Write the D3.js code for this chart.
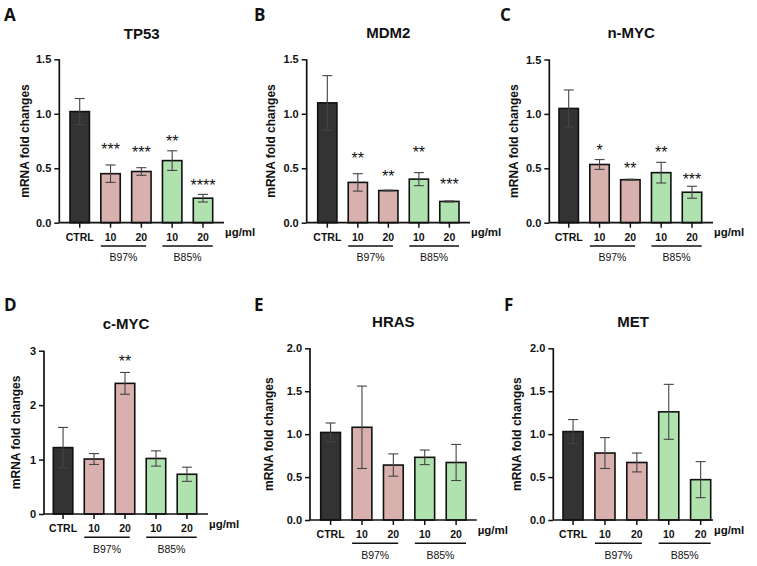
<!DOCTYPE html>
<html>
<head>
<meta charset="utf-8">
<script src="https://cdn.jsdelivr.net/npm/d3@7"></script>
<style>
  html, body { margin: 0; padding: 0; background: #fff; }
  svg { display: block; }
  text { font-family: "Liberation Sans", Arial, sans-serif; fill: #111; }
</style>
</head>
<body>
<svg id="chart" width="757" height="566"></svg>
<script>
// ---------- DATA ----------
const categories = ["CTRL", "B97-10", "B97-20", "B85-10", "B85-20"];
const tickLabels = ["CTRL", "10", "20", "10", "20"];
const groupLabels = ["B97%", "B85%"];
const unitLabel = "µg/ml";
const yTitle = "mRNA fold changes";

const tp53Mean = [1.02, 0.45, 0.47, 0.57, 0.225];
const tp53Sd   = [0.12, 0.08, 0.035, 0.09, 0.035];
const tp53Stars = ["", "***", "***", "**", "****"];
const tp53StarY = [null, 0.70, 0.68, 0.775, 0.37];

const mdm2Mean = [1.10, 0.37, 0.295, 0.40, 0.195];
const mdm2Sd   = [0.25, 0.08, 0.004, 0.06, 0.005];
const mdm2Stars = ["", "**", "**", "**", "***"];
const mdm2StarY = [null, 0.62, 0.46, 0.68, 0.38];

const nmycMean = [1.05, 0.535, 0.395, 0.46, 0.28];
const nmycSd   = [0.17, 0.045, 0.005, 0.095, 0.055];
const nmycStars = ["", "*", "**", "**", "***"];
const nmycStarY = [null, 0.70, 0.53, 0.68, 0.43];

const cmycMean = [1.22, 1.01, 2.40, 1.02, 0.73];
const cmycSd   = [0.37, 0.10, 0.20, 0.14, 0.13];
const cmycStars = ["", "", "**", "", ""];
const cmycStarY = [null, null, 2.86, null, null];

const hrasMean = [1.02, 1.08, 0.64, 0.73, 0.67];
const hrasSd   = [0.11, 0.48, 0.13, 0.085, 0.21];

const metMean = [1.03, 0.78, 0.67, 1.26, 0.47];
const metSd   = [0.14, 0.18, 0.11, 0.32, 0.21];

const ticks15 = [0, 0.5, 1.0, 1.5];
const ticks3  = [0, 1, 2, 3];
const ticks2  = [0, 0.5, 1.0, 1.5, 2.0];

const barColors = ["#333333", "#d8b0ae", "#d8b0ae", "#b0e2b0", "#b0e2b0"];

// ---------- LAYOUT ----------
const panels = [
  { letter: "A", title: "TP53",  mean: tp53Mean, sd: tp53Sd, stars: tp53Stars, starY: tp53StarY, ticks: ticks15, fmt: ".1f", yMax: 1.5,
    ax: 59.3, bx: [70, 212.7], axEnd: 224, yTop: 59.3, y0: 222.7, lx: 4, ly: 20.7, tb: 38.5, ytx: 25 },
  { letter: "B", title: "MDM2",  mean: mdm2Mean, sd: mdm2Sd, stars: mdm2Stars, starY: mdm2StarY, ticks: ticks15, fmt: ".1f", yMax: 1.5,
    ax: 306.7, bx: [317.7, 459], axEnd: 470, yTop: 59.3, y0: 222.7, lx: 254, ly: 20.7, tb: 38, ytx: 270.5 },
  { letter: "C", title: "n-MYC", mean: nmycMean, sd: nmycSd, stars: nmycStars, starY: nmycStarY, ticks: ticks15, fmt: ".1f", yMax: 1.5,
    ax: 549.3, bx: [559, 701.7], axEnd: 713, yTop: 59.5, y0: 222.7, lx: 500, ly: 20.7, tb: 38, ytx: 513.5 },
  { letter: "D", title: "c-MYC", mean: cmycMean, sd: cmycSd, stars: cmycStars, starY: cmycStarY, ticks: ticks3, fmt: "d", yMax: 3,
    ax: 44, bx: [53.3, 196.7], axEnd: 208, yTop: 350.7, y0: 514, lx: 4, ly: 310.7, tb: 329, ytx: 15.5 },
  { letter: "E", title: "HRAS",  mean: hrasMean, sd: hrasSd, stars: null, starY: null, ticks: ticks2, fmt: ".1f", yMax: 2,
    ax: 310, bx: [320.7, 466], axEnd: 476.7, yTop: 348.3, y0: 520, lx: 254, ly: 310.7, tb: 327, ytx: 268.5 },
  { letter: "F", title: "MET",   mean: metMean, sd: metSd, stars: null, starY: null, ticks: ticks2, fmt: ".1f", yMax: 2,
    ax: 553.3, bx: [563, 710.7], axEnd: 713, yTop: 348.3, y0: 520, lx: 504, ly: 310.7, tb: 327, ytx: 517 }
];

const svg = d3.select("#chart");

panels.forEach(p => {
  const g = svg.append("g");
  const x = d3.scaleBand().domain(categories).range(p.bx).paddingInner(0.37).paddingOuter(0);
  const y = d3.scaleLinear().domain([0, p.yMax]).range([p.y0, p.yTop]);
  const bw = x.bandwidth();

  // panel letter
  g.append("text").attr("x", p.lx).attr("y", p.ly)
    .style("font-family", "'Open Sans', 'Noto Sans', sans-serif")
    .style("font-weight", "bold").style("font-size", "17px").text(p.letter);

  // title
  g.append("text").attr("x", (p.ax + p.axEnd) / 2).attr("y", p.tb)
    .attr("text-anchor", "middle").style("font-weight", "bold").style("font-size", "15px").text(p.title);

  // y title
  g.append("text")
    .attr("transform", `translate(${p.ytx},${(p.yTop + p.y0) / 2}) rotate(-90)`)
    .attr("text-anchor", "middle").attr("dy", "0.35em")
    .style("font-weight", "bold").style("font-size", "12px").text(yTitle);

  // bars
  const data = categories.map((c, i) => ({ c, i, m: p.mean[i], s: p.sd[i] }));
  g.selectAll("rect.bar").data(data).enter().append("rect")
    .attr("x", d => x(d.c)).attr("width", bw)
    .attr("y", d => y(d.m)).attr("height", d => y(0) - y(d.m))
    .attr("fill", d => barColors[d.i]).attr("stroke", "#111").attr("stroke-width", 1.6);

  // error bars
  const eg = g.selectAll("g.err").data(data).enter().append("g")
    .attr("stroke", "#444").attr("stroke-width", 1.1);
  eg.append("line").attr("x1", d => x(d.c) + bw / 2).attr("x2", d => x(d.c) + bw / 2)
    .attr("y1", d => y(d.m - d.s)).attr("y2", d => y(d.m + d.s));
  eg.append("line").attr("x1", d => x(d.c) + bw / 2 - 5).attr("x2", d => x(d.c) + bw / 2 + 5)
    .attr("y1", d => y(d.m + d.s)).attr("y2", d => y(d.m + d.s));
  eg.append("line").attr("x1", d => x(d.c) + bw / 2 - 5).attr("x2", d => x(d.c) + bw / 2 + 5)
    .attr("y1", d => y(d.m - d.s)).attr("y2", d => y(d.m - d.s));

  // stars
  if (p.stars) {
    g.selectAll("text.star").data(data.filter(d => p.stars[d.i])).enter().append("text")
      .attr("x", d => x(d.c) + bw / 2).attr("y", d => y(p.starY[d.i]) + 9)
      .attr("text-anchor", "middle").style("font-size", "16px").text(d => p.stars[d.i]);
  }

  // y axis
  const yAxis = d3.axisLeft(y).tickValues(p.ticks).tickFormat(d3.format(p.fmt)).tickSize(5).tickPadding(3);
  const ya = g.append("g").attr("transform", `translate(${p.ax},0)`).call(yAxis);
  ya.select(".domain").attr("d", `M0,${p.yTop}V${p.y0}`).attr("stroke", "#111").attr("stroke-width", 1.7);
  ya.selectAll(".tick line").attr("stroke", "#111").attr("stroke-width", 1.5);
  ya.selectAll(".tick text").style("font-family", "'Liberation Sans', Arial, sans-serif")
    .style("font-weight", "bold").style("font-size", "11px").attr("fill", "#111");

  // x axis
  const xAxis = d3.axisBottom(x).tickFormat((d, i) => tickLabels[i]).tickSize(5).tickPadding(3);
  const xa = g.append("g").attr("transform", `translate(0,${p.y0})`).call(xAxis);
  xa.select(".domain").attr("d", `M${p.ax},0H${p.axEnd}`).attr("stroke", "#111").attr("stroke-width", 1.7);
  xa.selectAll(".tick line").attr("stroke", "#111").attr("stroke-width", 1.5);
  xa.selectAll(".tick text").attr("y", 18).attr("dy", null)
    .style("font-family", "'Liberation Sans', Arial, sans-serif")
    .style("font-weight", "bold").style("font-size", "10.5px").attr("fill", "#111");

  // unit label
  g.append("text").attr("x", p.axEnd + 1).attr("y", p.y0 + 13.5)
    .style("font-weight", "bold").style("font-size", "11.5px").text(unitLabel);

  // group lines and labels
  const groups = [
    { label: groupLabels[0], a: categories[1], b: categories[2], trim: 5 },
    { label: groupLabels[1], a: categories[3], b: categories[4], trim: 0 }
  ];
  groups.forEach(gr => {
    const x1 = x(gr.a), x2 = x(gr.b) + bw - gr.trim;
    g.append("line").attr("x1", x1).attr("x2", x2)
      .attr("y1", p.y0 + 23.3).attr("y2", p.y0 + 23.3)
      .attr("stroke", "#111").attr("stroke-width", 1.5);
    g.append("text").attr("x", (x1 + x2) / 2).attr("y", p.y0 + 38.5)
      .attr("text-anchor", "middle").style("font-size", "10.5px").text(gr.label);
  });
});
</script>
</body>
</html>
